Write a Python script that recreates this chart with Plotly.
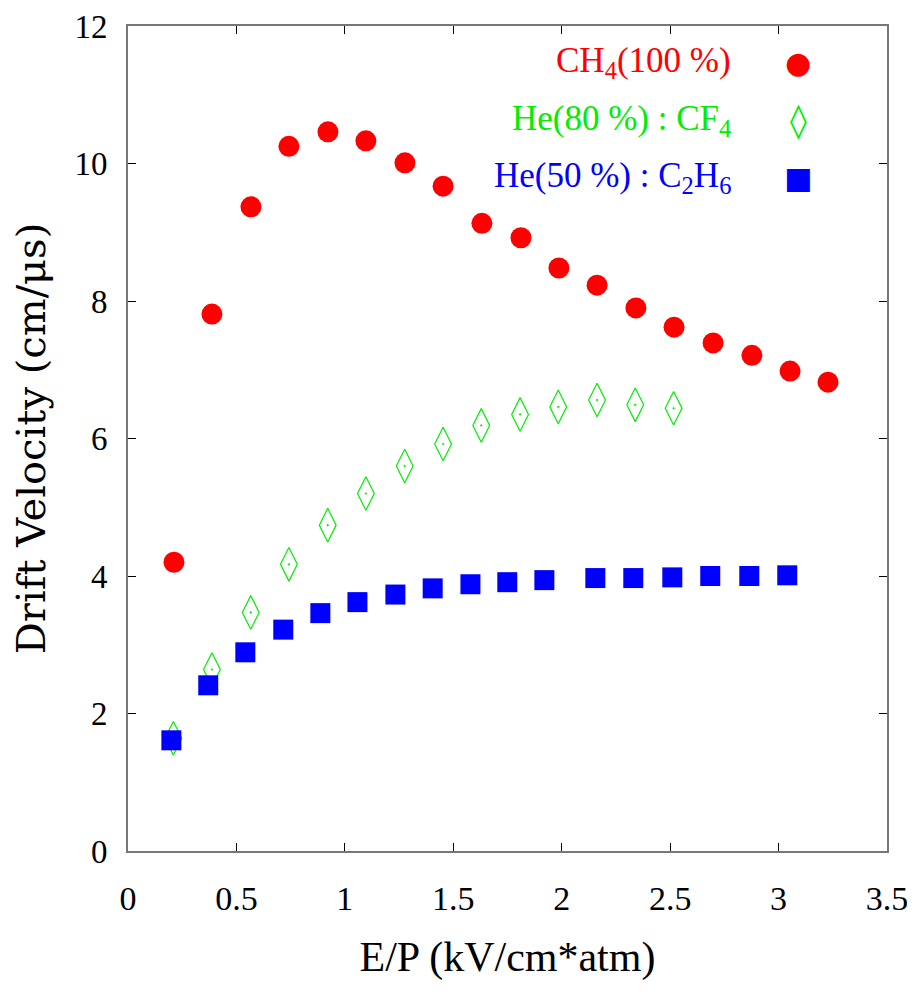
import plotly.graph_objects as go

# ---- data ----
ch4_x = [0.212, 0.387, 0.567, 0.742, 0.922, 1.097, 1.277, 1.453, 1.632, 1.812,
         1.987, 2.163, 2.342, 2.518, 2.698, 2.877, 3.053, 3.228]
ch4_y = [4.20, 7.81, 9.37, 10.25, 10.46, 10.33, 10.01, 9.67, 9.13, 8.92,
         8.48, 8.23, 7.90, 7.62, 7.39, 7.21, 6.98, 6.82]

hecf4_x = [0.209, 0.387, 0.566, 0.742, 0.921, 1.097, 1.276, 1.453, 1.629, 1.808,
           1.984, 2.163, 2.339, 2.516]
hecf4_y = [1.64, 2.64, 3.47, 4.17, 4.74, 5.20, 5.60, 5.92, 6.19, 6.35,
           6.46, 6.56, 6.49, 6.44]

hec2h6_x = [0.200, 0.370, 0.541, 0.716, 0.887, 1.058, 1.233, 1.405, 1.579, 1.749,
            1.920, 2.155, 2.330, 2.510, 2.685, 2.865, 3.040]
hec2h6_y = [1.61, 2.41, 2.89, 3.22, 3.46, 3.62, 3.73, 3.82, 3.88, 3.91,
            3.94, 3.97, 3.97, 3.98, 4.00, 4.00, 4.01]

labels = ["CH<sub>4</sub>(100 %)", "He(80 %) : CF<sub>4</sub>", "He(50 %) : C<sub>2</sub>H<sub>6</sub>"]
colors = ["#ff0000", "#00ee00", "#0000ff"]
x_ticks = [0, 0.5, 1, 1.5, 2, 2.5, 3, 3.5]
x_ticklabels = ["0", "0.5", "1", "1.5", "2", "2.5", "3", "3.5"]
y_ticks = [0, 2, 4, 6, 8, 10, 12]

SERIF = "Liberation Serif"

fig = go.Figure()
fig.add_trace(go.Scatter(x=ch4_x, y=ch4_y, mode="markers", name=labels[0],
                         marker=dict(symbol="circle", size=21, color=colors[0], line=dict(width=0))))
fig.add_trace(go.Scatter(x=hecf4_x, y=hecf4_y, mode="markers", name=labels[1],
                         marker=dict(symbol="diamond-tall-open-dot", size=24, color=colors[1],
                                     line=dict(width=1.2, color=colors[1]))))
fig.add_trace(go.Scatter(x=hec2h6_x, y=hec2h6_y, mode="markers", name=labels[2],
                         marker=dict(symbol="square", size=20, color=colors[2], line=dict(width=0))))

# legend drawn as right-aligned text with key glyph to the right
rows_y = [0.956, 0.886, 0.816]
glyphs = ["●", "◊", "■"]
glyph_sizes = [30, 34, 30]
for lab, col, gy, gl, gs in zip(labels, colors, rows_y, glyphs, glyph_sizes):
    fig.add_annotation(x=0.797, y=gy, xref="paper", yref="paper", xanchor="right", yanchor="middle",
                       text=lab, showarrow=False, font=dict(family=SERIF, size=35, color=col))
    fig.add_annotation(x=0.883, y=gy, xref="paper", yref="paper", xanchor="center", yanchor="middle",
                       text=gl, showarrow=False, font=dict(family="DejaVu Sans", size=gs, color=col))

fig.update_layout(
    width=907, height=986,
    margin=dict(l=120, r=28, t=18, b=143),
    paper_bgcolor="white", plot_bgcolor="white",
    showlegend=False,
    font=dict(family=SERIF, color="black"),
)
fig.update_xaxes(
    range=[0, 3.5], tickmode="array", tickvals=x_ticks, ticktext=x_ticklabels,
    ticks="inside", ticklen=8, tickcolor="black", mirror="ticks",
    showline=True, linecolor="#777777", linewidth=2, showgrid=False, zeroline=False,
    tickfont=dict(family=SERIF, size=34), ticklabelstandoff=16, ticklabeloverflow="allow",
    title=dict(text="E/P (kV/cm*atm)", font=dict(family=SERIF, size=42), standoff=26),
    automargin=False,
)
fig.update_yaxes(
    range=[0, 12], tickmode="array", tickvals=y_ticks,
    ticks="inside", ticklen=8, tickcolor="black", mirror="ticks",
    showline=True, linecolor="#777777", linewidth=2, showgrid=False, zeroline=False,
    tickfont=dict(family=SERIF, size=33), ticklabelstandoff=12, ticklabeloverflow="allow",
    title=dict(text="Drift Velocity (cm/μs)", font=dict(family="DejaVu Serif", size=40), standoff=24),
    automargin=False,
)

fig.write_html("out.html")
